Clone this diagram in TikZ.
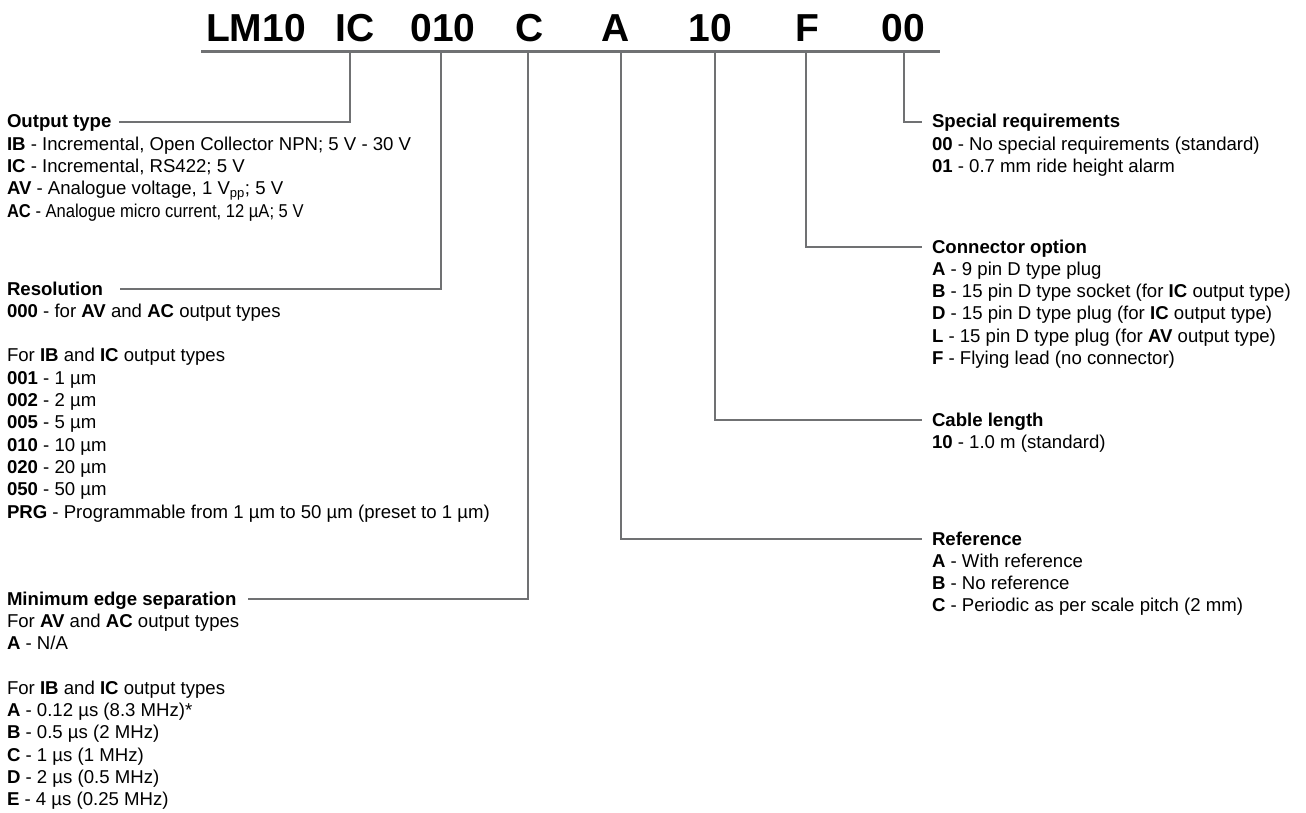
\documentclass[tikz,border=0pt]{standalone}
\usepackage{fontspec}
\setmainfont{Liberation Sans}
\usepackage{graphicx}
\usetikzlibrary{calc}
\definecolor{leadgray}{RGB}{112,113,115}
\begin{document}
\begin{tikzpicture}[x=1pt,y=-1pt,
  every node/.style={inner sep=0pt, outer sep=0pt},
  head/.style={font=\fontsize{18.6}{22.3}\selectfont\bfseries, anchor=base west, text height=12pt, text depth=0pt},
  body/.style={font=\fontsize{18.6}{22.3}\selectfont, anchor=north west, align=left},
  code/.style={font=\fontsize{39}{44}\selectfont\bfseries, anchor=base},
  rulestyle/.style={draw=leadgray, line width=3pt},
  lead/.style={draw=leadgray, line width=2.2pt},
]
\useasboundingbox (0,0) rectangle (1306,813);

% code letters
\node[code] (c-lm) at (256,42) {LM10};
\node[code] (c-ic) at (355,42) {IC};
\node[code] (c-010) at (443,42) {010};
\node[code] (c-c) at (530,42) {C};
\node[code] (c-a) at (616,42) {A};
\node[code] (c-10) at (710,42) {10};
\node[code] (c-f) at (807,42) {F};
\node[code] (c-00) at (903,42) {00};

\coordinate (rl) at (201,52);
\coordinate (rr) at (940,52);
\draw[rulestyle] (rl) -- (rr);

\coordinate (k-ic) at (350,52);
\coordinate (k-010) at (441,52);
\coordinate (k-c) at (528,52);
\coordinate (k-a) at (621,52);
\coordinate (k-10) at (715,52);
\coordinate (k-f) at (806,52);
\coordinate (k-00) at (904,52);

% left headings
\node[head] (h-out) at (7,128) {Output type};
\node[body] (b-out) at ($(h-out.base west)+(0,6.7)$) {\strut\textbf{IB} - Incremental, Open Collector NPN; 5 V - 30 V\\
\textbf{IC} - Incremental, RS422; 5 V\\
\textbf{AV} - Analogue voltage, 1 V\textsubscript{pp}; 5 V\\
\scalebox{0.89}[1]{\textbf{AC} - Analogue micro current, 12 µA; 5 V}};

\node[head] (h-res) at (7,295) {Resolution};
\node[body] (b-res) at ($(h-res.base west)+(0,6.7)$) {\strut\textbf{000} - for \textbf{AV} and \textbf{AC} output types\\[22.3pt]
For \textbf{IB} and \textbf{IC} output types\\
\textbf{001} - 1 µm\\
\textbf{002} - 2 µm\\
\textbf{005} - 5 µm\\
\textbf{010} - 10 µm\\
\textbf{020} - 20 µm\\
\textbf{050} - 50 µm\\
\textbf{PRG} - Programmable from 1 µm to 50 µm (preset to 1 µm)};

\node[head] (h-min) at (7,605) {Minimum edge separation};
\node[body] (b-min) at ($(h-min.base west)+(0,6.7)$) {\strut For \textbf{AV} and \textbf{AC} output types\\
\textbf{A} - N/A\\[22.3pt]
For \textbf{IB} and \textbf{IC} output types\\
\textbf{A} - 0.12 µs (8.3 MHz)*\\
\textbf{B} - 0.5 µs (2 MHz)\\
\textbf{C} - 1 µs (1 MHz)\\
\textbf{D} - 2 µs (0.5 MHz)\\
\textbf{E} - 4 µs (0.25 MHz)};

% right headings
\node[head] (h-spec) at (932,128) {Special requirements};
\node[body] (b-spec) at ($(h-spec.base west)+(0,6.7)$) {\strut\textbf{00} - No special requirements (standard)\\
\textbf{01} - 0.7 mm ride height alarm};

\node[head] (h-con) at (932,253) {Connector option};
\node[body] (b-con) at ($(h-con.base west)+(0,6.7)$) {\strut\textbf{A} - 9 pin D type plug\\
\textbf{B} - 15 pin D type socket (for \textbf{IC} output type)\\
\textbf{D} - 15 pin D type plug (for \textbf{IC} output type)\\
\textbf{L} - 15 pin D type plug (for \textbf{AV} output type)\\
\textbf{F} - Flying lead (no connector)};

\node[head] (h-cab) at (932,426) {Cable length};
\node[body] (b-cab) at ($(h-cab.base west)+(0,6.7)$) {\strut\textbf{10} - 1.0 m (standard)};

\node[head] (h-ref) at (932,545) {Reference};
\node[body] (b-ref) at ($(h-ref.base west)+(0,6.7)$) {\strut\textbf{A} - With reference\\
\textbf{B} - No reference\\
\textbf{C} - Periodic as per scale pitch (2 mm)};

% leaders
\draw[lead] (k-ic) |- ([xshift=8pt]h-out.east);
\draw[lead] (k-010) |- ([xshift=17pt]h-res.east);
\draw[lead] (k-c) |- ([xshift=12pt]h-min.east);
\draw[lead] (k-a) |- ([xshift=-10pt]h-ref.west);
\draw[lead] (k-10) |- ([xshift=-10pt]h-cab.west);
\draw[lead] (k-f) |- ([xshift=-10pt]h-con.west);
\draw[lead] (k-00) |- ([xshift=-10pt]h-spec.west);
\end{tikzpicture}
\end{document}
